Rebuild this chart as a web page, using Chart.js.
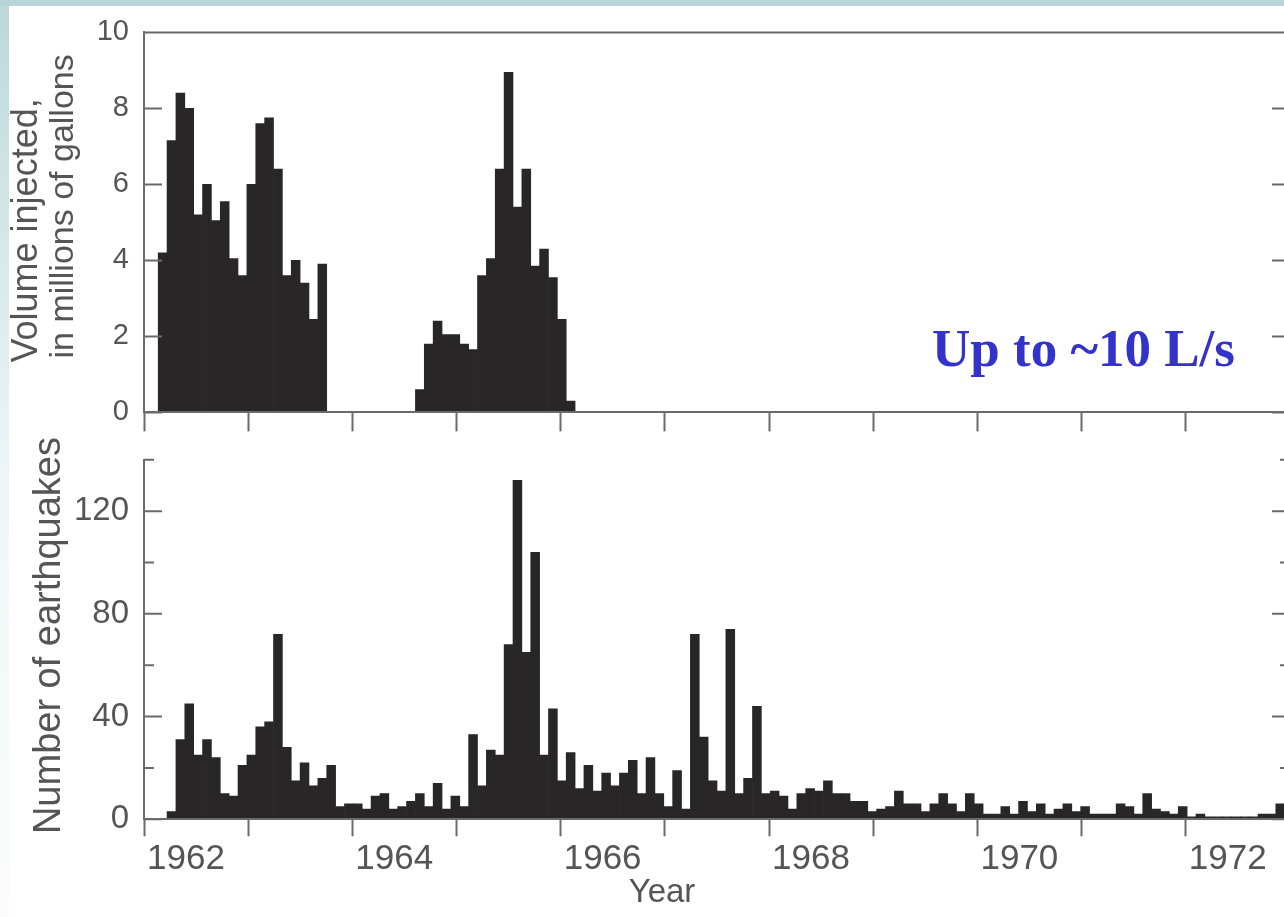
<!DOCTYPE html>
<html>
<head>
<meta charset="utf-8">
<title>Injection volume and earthquakes, 1962-1972</title>
<script src="https://cdn.jsdelivr.net/npm/chart.js@4.4.1/dist/chart.umd.min.js"></script>
<style>
  html, body { margin: 0; padding: 0; background: #fff; overflow: hidden; }
  body { width: 1284px; height: 917px; position: relative; }
  #stripTop { position: absolute; left: 0; top: 0; width: 1284px; height: 6px; background: #b7d5d8; }
  #stripLeft { position: absolute; left: 0; top: 6px; width: 9px; height: 911px;
    background: linear-gradient(to bottom, #bcd8db 0, #d3e7e9 220px, #eef6f7 480px, #fbfdfd 900px); }
  canvas { position: absolute; left: 0; }
  #volumeChart { top: 0; }
  #quakeChart { top: 425px; }
</style>
</head>
<body>
<div id="stripTop"></div>
<div id="stripLeft"></div>
<canvas id="volumeChart" width="1300" height="445"></canvas>
<canvas id="quakeChart" width="1300" height="492"></canvas>
<script>
const FONT = "'Liberation Sans', Arial, sans-serif";
const TEXT_GREY = '#555555';
const AXIS_GREY = '#6a6a6a';
const BAR_FILL = '#282627';

// monthly volume injected (millions of gallons), first month = month 0
const volumeStart = 0;
const volumeInjected = [
  4.2, 7.15, 8.4, 8.0, 5.2, 6.0, 5.05, 5.55, 4.05, 3.6, 6.0, 7.6, 7.75, 6.4, 3.6, 4.0, 3.4, 2.45, 3.9,
  0, 0, 0, 0, 0, 0, 0, 0, 0, 0,
  0.6, 1.8, 2.4, 2.05, 2.05, 1.8, 1.65, 3.6, 4.05, 6.4, 8.95, 5.4, 6.4, 3.85, 4.3, 3.55, 2.45, 0.3
];

// monthly number of earthquakes, starting one month later
const quakeStart = 1;
const earthquakeCount = [
  3, 31, 45, 25, 31, 24, 10, 9, 21, 25, 36, 38,
  72, 28, 15, 22, 13, 16, 21, 5, 6, 6, 4, 9,
  10, 4, 5, 7, 10, 5, 14, 4, 9, 5, 33, 13,
  27, 25, 68, 132, 65, 104, 25, 43, 15, 26, 12, 21,
  11, 18, 13, 18, 23, 10, 24, 10, 5, 19, 4, 72,
  32, 15, 11, 74, 10, 16, 44, 10, 11, 9, 4, 10,
  12, 11, 15, 10, 10, 7, 7, 3, 4, 5, 11, 6,
  6, 3, 6, 10, 6, 3, 10, 6, 2, 2, 5, 2,
  7, 3, 6, 2, 4, 6, 3, 5, 2, 2, 2, 6,
  5, 2, 10, 4, 3, 2, 5, 1, 2, 1, 1, 1,
  1, 1, 1, 2, 2, 6
];

const firstYear = 1962;
const lastYear = 1973;
const yearLabels = ['1962', '1964', '1966', '1968', '1970', '1972'];

const volumeTitle = ['Volume injected,', 'in millions of gallons'];
const quakeTitle = 'Number of earthquakes';
const yearTitle = 'Year';
const noteText = 'Up to ~10 L/s';

const monthsFrom = (start, values) => values.map((_, i) => start + i);

// y ticks drawn inward on both sides, plus the frame edges chart.js doesn't draw
const inwardTicks = {
  id: 'inwardTicks',
  afterDatasetsDraw(chart, args, opts) {
    const { ctx, chartArea } = chart;
    const y = chart.scales.y;
    ctx.save();
    ctx.strokeStyle = AXIS_GREY;
    ctx.lineWidth = 2;
    ctx.beginPath();
    y.ticks.forEach(t => {
      const py = y.getPixelForValue(t.value);
      const len = t.value % opts.majorStep === 0 ? 18 : 10;
      ctx.moveTo(chartArea.left, py);
      ctx.lineTo(chartArea.left + len, py);
      ctx.moveTo(chartArea.right, py);
      ctx.lineTo(chartArea.right - len, py);
    });
    if (opts.boxed) {
      ctx.moveTo(chartArea.left - 1, chartArea.top);
      ctx.lineTo(chartArea.right + 1, chartArea.top);
    }
    ctx.moveTo(chartArea.right, chartArea.top);
    ctx.lineTo(chartArea.right, chartArea.bottom);
    ctx.stroke();
    ctx.restore();
  }
};

// axis titles: vertical lines each get their own baseline and offset from the plot middle
const axisTitles = {
  id: 'axisTitles',
  afterDraw(chart, args, opts) {
    const { ctx, chartArea } = chart;
    const midY = (chartArea.top + chartArea.bottom) / 2;
    ctx.save();
    ctx.fillStyle = TEXT_GREY;
    ctx.textAlign = 'center';
    ctx.textBaseline = 'alphabetic';
    (opts.vertical || []).forEach(line => {
      ctx.save();
      ctx.font = line.size + 'px ' + FONT;
      ctx.translate(line.baseline, midY + line.shift);
      ctx.rotate(-Math.PI / 2);
      ctx.fillText(line.text, 0, 0);
      ctx.restore();
    });
    if (opts.horizontal) {
      const h = opts.horizontal;
      ctx.font = h.size + 'px ' + FONT;
      ctx.fillText(h.text, h.x, chartArea.bottom + h.drop);
    }
    ctx.restore();
  }
};

const noteLabel = {
  id: 'noteLabel',
  afterDraw(chart, args, opts) {
    const ctx = chart.ctx;
    ctx.save();
    ctx.font = 'bold 53px "Liberation Serif", "Times New Roman", serif';
    ctx.fillStyle = '#3333cc';
    ctx.textBaseline = 'alphabetic';
    ctx.fillText(opts.text, opts.x, opts.y);
    ctx.restore();
  }
};

// hidden month axis carries the bars
function monthAxis() {
  return { type: 'linear', display: false, min: -2.1, max: 127.1, offset: false, grid: { offset: false } };
}

// visible axis with a tick at every year
function yearAxis(tickLen, height, withLabels) {
  return {
    type: 'linear',
    position: 'bottom',
    min: firstYear,
    max: lastYear,
    offset: false,
    grid: { offset: false, drawOnChartArea: false, drawTicks: true, tickLength: tickLen, tickWidth: 2, tickColor: AXIS_GREY },
    border: { display: true, color: AXIS_GREY, width: 2, z: 1 },
    ticks: {
      display: withLabels,
      stepSize: 1,
      autoSkip: false,
      maxRotation: 0,
      align: 'start',
      labelOffset: 3,
      padding: 2,
      color: TEXT_GREY,
      font: { family: FONT, size: 35 },
      callback: v => yearLabels.includes(String(v)) ? String(v) : ''
    },
    afterFit: s => { s.height = height; }
  };
}

function barDataset(values) {
  return {
    data: values,
    backgroundColor: BAR_FILL,
    borderWidth: 0,
    barPercentage: 1,
    categoryPercentage: 1
  };
}

new Chart(document.getElementById('volumeChart'), {
  type: 'bar',
  data: {
    labels: monthsFrom(volumeStart, volumeInjected),
    datasets: [barDataset(volumeInjected)]
  },
  options: {
    responsive: false,
    animation: false,
    layout: { padding: { top: 25.3, right: 10, bottom: 0, left: 0 } },
    plugins: {
      legend: { display: false },
      tooltip: { enabled: false },
      inwardTicks: { majorStep: 2, boxed: true },
      axisTitles: {
        vertical: [
          { text: volumeTitle[0], size: 36, baseline: 37, shift: 8 },
          { text: volumeTitle[1], size: 34, baseline: 73, shift: -16 }
        ]
      },
      noteLabel: { text: noteText, x: 932, y: 366 }
    },
    scales: {
      x: monthAxis(),
      years: yearAxis(19, 32.6, false),
      y: {
        min: 0,
        max: 10,
        grid: { display: false, drawTicks: false },
        border: { display: true, color: AXIS_GREY, width: 2, z: 1 },
        ticks: { stepSize: 2, padding: 15, color: TEXT_GREY, font: { family: FONT, size: 29 } },
        afterFit: s => { s.width = 144; }
      }
    }
  },
  plugins: [inwardTicks, axisTitles, noteLabel]
});

new Chart(document.getElementById('quakeChart'), {
  type: 'bar',
  data: {
    labels: monthsFrom(quakeStart, earthquakeCount),
    datasets: [barDataset(earthquakeCount)]
  },
  options: {
    responsive: false,
    animation: false,
    layout: { padding: { top: 21, right: 10, bottom: 0, left: 0 } },
    plugins: {
      legend: { display: false },
      tooltip: { enabled: false },
      inwardTicks: { majorStep: 40, boxed: false },
      axisTitles: {
        vertical: [
          { text: quakeTitle, size: 38, baseline: 60, shift: -4 }
        ],
        horizontal: { text: yearTitle, size: 33, x: 662, drop: 83 }
      }
    },
    scales: {
      x: monthAxis(),
      years: yearAxis(17, 97.7, true),
      y: {
        min: 0,
        max: 140,
        grid: { display: false, drawTicks: false },
        border: { display: true, color: AXIS_GREY, width: 2, z: 1 },
        ticks: {
          stepSize: 20,
          padding: 15,
          color: TEXT_GREY,
          font: { family: FONT, size: 33 },
          callback: v => v % 40 === 0 ? String(v) : ''
        },
        afterFit: s => { s.width = 144; }
      }
    }
  },
  plugins: [inwardTicks, axisTitles]
});
</script>
</body>
</html>
